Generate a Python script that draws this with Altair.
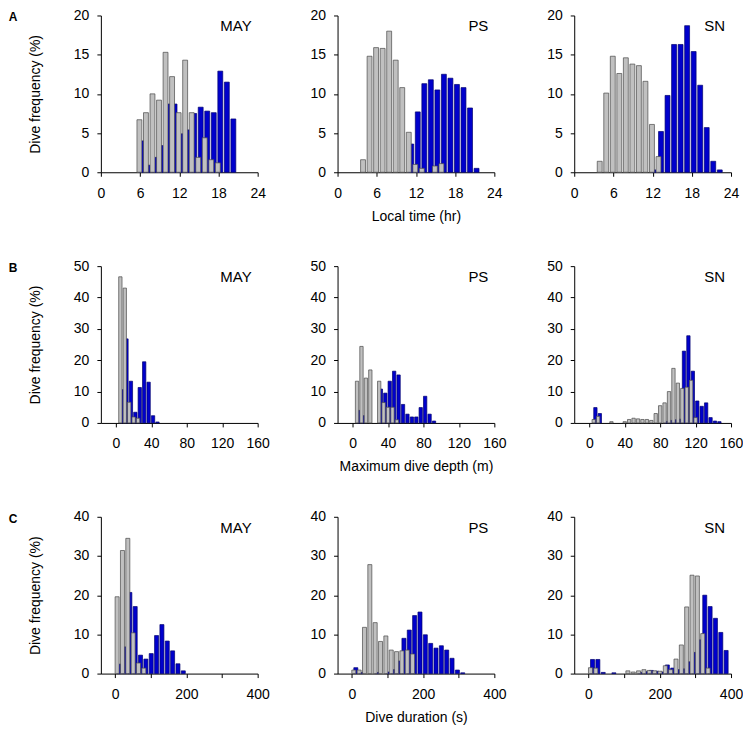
import altair as alt
import pandas as pd

FONT = "Liberation Sans, Arial, sans-serif"
GREY_FILL = "#c0c0c0"
GREY_STROKE = "#4a4a4a"
BLUE_FILL = "#0000cc"
BLUE_STROKE = "#00006e"

# ---- bins ----
hours = list(range(0, 24))                 # local hour
depth_bins = list(range(5, 160, 5))        # max depth (m)
dur_bins = list(range(0, 405, 15))         # duration (s), bin starts

# ---- Row A: local time ----
may_time_grey = [0, 0, 0, 0, 0, 0, 6.7, 7.6, 10.0, 9.2, 15.3, 12.2, 7.6, 14.3, 7.6, 1.9, 4.4, 1.6, 1.2, 0, 0, 0, 0, 0]
may_time_blue = [0, 0, 0, 0, 0, 0, 4.0, 0.9, 1.9, 3.4, 8.7, 8.7, 4.9, 5.4, 7.5, 8.3, 7.8, 7.6, 12.9, 11.5, 6.8, 0, 0, 0]
ps_time_grey = [0, 0, 0, 0, 1.6, 14.8, 15.9, 15.8, 18.0, 14.3, 10.8, 5.1, 1.0, 0.5, 0, 0.8, 1.1, 0, 0, 0, 0, 0, 0, 0]
ps_time_blue = [0, 0, 0, 0, 0, 0, 0, 0, 0, 0, 0, 3.6, 7.7, 11.3, 11.8, 10.5, 12.5, 12.0, 11.2, 10.8, 8.2, 0.5, 0, 0]
sn_time_grey = [0, 0, 0, 0, 1.4, 10.1, 14.8, 12.6, 14.6, 13.8, 13.6, 11.6, 6.1, 2.0, 0, 0, 0, 0, 0, 0, 0, 0, 0, 0]
sn_time_blue = [0, 0, 0, 0, 0, 0, 0, 0, 0, 0, 0, 0, 0.3, 5.2, 9.8, 16.3, 16.3, 18.7, 15.4, 11.1, 5.7, 1.4, 0.3, 0]

# ---- Row B: maximum dive depth ----
may_depth_grey = [46.6, 43.0, 6.6, 1.9, 1.5, 0, 0, 0, 0, 0, 0, 0, 0, 0, 0, 0,
                  0, 0, 0, 0, 0, 0, 0, 0, 0, 0, 0, 0, 0, 0, 0]
may_depth_blue = [10.6, 26.8, 13.3, 3.4, 11.3, 19.5, 13.0, 2.3, 0.3, 0, 0, 0, 0, 0, 0, 0,
                  0, 0, 0, 0, 0, 0, 0, 0, 0, 0, 0, 0, 0, 0, 0]
ps_depth_grey = [13.3, 24.4, 14.3, 16.9, 0, 13.3, 6.5, 5.0, 5.0, 1.0, 0, 0, 0, 0, 0, 0,
                 0, 0, 0, 0, 0, 0, 0, 0, 0, 0, 0, 0, 0, 0, 0]
ps_depth_blue = [4.0, 2.3, 0, 0, 0, 10.8, 9.5, 13.3, 16.5, 15.3, 5.9, 2.8, 1.9, 1.9, 4.9, 8.5,
                 2.8, 0.6, 0, 0, 0, 0, 0, 0, 0, 0, 0, 0, 0, 0, 0]
sn_depth_grey = [1.1, 2.1, 0, 0, 0.4, 0, 0, 0.4, 1.1, 1.5, 1.3, 1.1, 1.1, 0.8, 3.0, 5.5,
                 6.4, 10.0, 17.4, 12.7, 11.0, 11.4, 13.6, 1.7, 0, 0, 0, 0, 0, 0, 0]
sn_depth_blue = [4.9, 3.0, 0, 0, 0, 0, 0, 0, 0, 0, 0, 0, 0, 0, 0, 0,
                 0.5, 0.8, 1.0, 1.2, 22.9, 27.8, 16.5, 7.0, 5.3, 6.4, 1.7, 0.6, 0.4, 0, 0]

# ---- Row C: dive duration ----
may_dur_grey = [19.6, 31.4, 34.5, 10.4, 2.7, 1.4, 0, 0, 0, 0, 0, 0, 0, 0,
                0, 0, 0, 0, 0, 0, 0, 0, 0, 0, 0, 0, 0]
may_dur_blue = [2.4, 6.8, 20.7, 17.1, 4.7, 3.7, 5.1, 9.7, 12.5, 8.3, 5.8, 2.5, 0.7, 0,
                0, 0, 0, 0, 0, 0, 0, 0, 0, 0, 0, 0, 0]
ps_dur_grey = [0.9, 0.9, 11.8, 27.8, 13.0, 8.2, 9.6, 6.0, 5.6, 5.8, 6.0, 5.0, 0, 0,
               0, 0, 0, 0, 0, 0, 0, 0, 0, 0, 0, 0, 0]
ps_dur_blue = [1.5, 0.3, 0, 0, 0.3, 0, 0.4, 1.0, 3.2, 9.0, 11.1, 14.8, 15.7, 9.9,
               7.7, 6.5, 7.1, 6.0, 3.9, 0.9, 0.2, 0, 0, 0, 0, 0, 0]
sn_dur_grey = [1.5, 1.4, 0, 0, 0, 0, 0, 0.7, 0.4, 0.7, 1.0, 0.8, 0.7, 0.6,
               2.0, 1.0, 3.7, 7.3, 17.0, 25.1, 24.9, 10.2, 1.4, 0, 0, 0, 0]
sn_dur_blue = [3.6, 3.6, 0.3, 0, 0.2, 0, 0, 0, 0, 0.3, 0.5, 0.8, 0.6, 0.4,
               2.2, 1.4, 1.0, 1.2, 3.0, 5.4, 8.6, 20.0, 17.1, 14.1, 10.5, 5.9, 0]

sites = ["MAY", "PS", "SN"]
letters = ["A", "B", "C"]
x_titles = ["Local time (hr)", "Maximum dive depth (m)", "Dive duration (s)"]
y_title = "Dive frequency (%)"

rows = [
    dict(bins=hours, w=1, c=-0.1, xdom=[0, 24], xticks=[0, 6, 12, 18, 24], lab=None,
         ydom=[0, 20], yticks=[0, 5, 10, 15, 20],
         data=[(may_time_grey, may_time_blue), (ps_time_grey, ps_time_blue), (sn_time_grey, sn_time_blue)]),
    dict(bins=depth_bins, w=5, c=0.0, xdom=[-17, 160], xticks=[0, 40, 80, 120, 160], lab=None,
         ydom=[0, 50], yticks=[0, 10, 20, 30, 40, 50],
         data=[(may_depth_grey, may_depth_blue), (ps_depth_grey, ps_depth_blue), (sn_depth_grey, sn_depth_blue)]),
    dict(bins=dur_bins, w=15, c=5.6, xdom=[-40, 400], xticks=[0, 100, 200, 300, 400], lab=200,
         ydom=[0, 40], yticks=[0, 10, 20, 30, 40],
         data=[(may_dur_grey, may_dur_blue), (ps_dur_grey, ps_dur_blue), (sn_dur_grey, sn_dur_blue)]),
]

W = 157
H = 157
panels = []
for r, row in enumerate(rows):
    w = row["w"]
    c = row["c"]
    half = 0.375 * w
    off = 0.38 * w
    for col, (grey, blue) in enumerate(row["data"]):
        df = pd.DataFrame({"bin": row["bins"], "grey": grey, "blue": blue})
        base = alt.Chart(df).transform_calculate(
            gx=f"datum.bin + ({c}) - {half}",
            gx2=f"datum.bin + ({c}) + {half}",
            bx=f"datum.bin + ({c}) + {off} - {half}",
            bx2=f"datum.bin + ({c}) + {off} + {half}",
        )
        xaxis_kw = dict(values=row["xticks"], title=x_titles[r] if col == 1 else None,
                        labelFlush=False)
        if row["lab"]:
            xaxis_kw["labelExpr"] = f"datum.value % {row['lab']} === 0 ? datum.label : ''"
        xaxis = alt.Axis(**xaxis_kw)
        yaxis = alt.Axis(values=row["yticks"], title=y_title if col == 0 else None)
        xscale = alt.Scale(domain=row["xdom"], nice=False, zero=False)
        yscale = alt.Scale(domain=row["ydom"], nice=False)

        blue_bars = base.transform_filter("datum.blue > 0").mark_bar(
            fill=BLUE_FILL, stroke=BLUE_STROKE, strokeWidth=0.7
        ).encode(
            x=alt.X("bx:Q", scale=xscale, axis=xaxis),
            x2="bx2:Q",
            y=alt.Y("blue:Q", scale=yscale, axis=yaxis),
            y2=alt.datum(0),
        )
        grey_bars = base.transform_filter("datum.grey > 0").mark_bar(
            fill=GREY_FILL, stroke=GREY_STROKE, strokeWidth=0.7
        ).encode(
            x=alt.X("gx:Q", scale=xscale, axis=xaxis),
            x2="gx2:Q",
            y=alt.Y("grey:Q", scale=yscale, axis=yaxis),
            y2=alt.datum(0),
        )
        site_lbl = alt.Chart(pd.DataFrame({"t": [sites[col]]})).mark_text(
            align="right", baseline="middle", fontSize=15, font=FONT, color="black"
        ).encode(text="t:N", x=alt.value(151), y=alt.value(11))
        layers = [blue_bars, grey_bars, site_lbl]
        if col == 0:
            letter = alt.Chart(pd.DataFrame({"t": [letters[r]]})).mark_text(
                align="center", baseline="middle", fontSize=12, fontWeight="bold",
                font=FONT, color="black"
            ).encode(text="t:N", x=alt.value(-88), y=alt.value(2))
            layers.append(letter)
        panels.append(alt.layer(*layers).properties(width=W, height=H))

chart = alt.concat(
    *panels, columns=3, spacing={"row": 94, "column": 80}, bounds="flush"
).properties(
    padding=0
).configure_view(
    stroke=None
).configure_axis(
    grid=False,
    domainColor="black",
    domainWidth=1,
    tickColor="black",
    tickWidth=1,
    tickSize=4,
    labelColor="black",
    titleColor="black",
    labelFont=FONT,
    titleFont=FONT,
    labelFontSize=14,
    titleFontSize=14,
    titleFontWeight="normal",
).configure_axisX(
    labelPadding=10,
    titlePadding=9,
).configure_axisY(
    labelPadding=8,
    titlePadding=31,
)

chart.save("out.html", embed_options={"renderer": "svg", "actions": False})
